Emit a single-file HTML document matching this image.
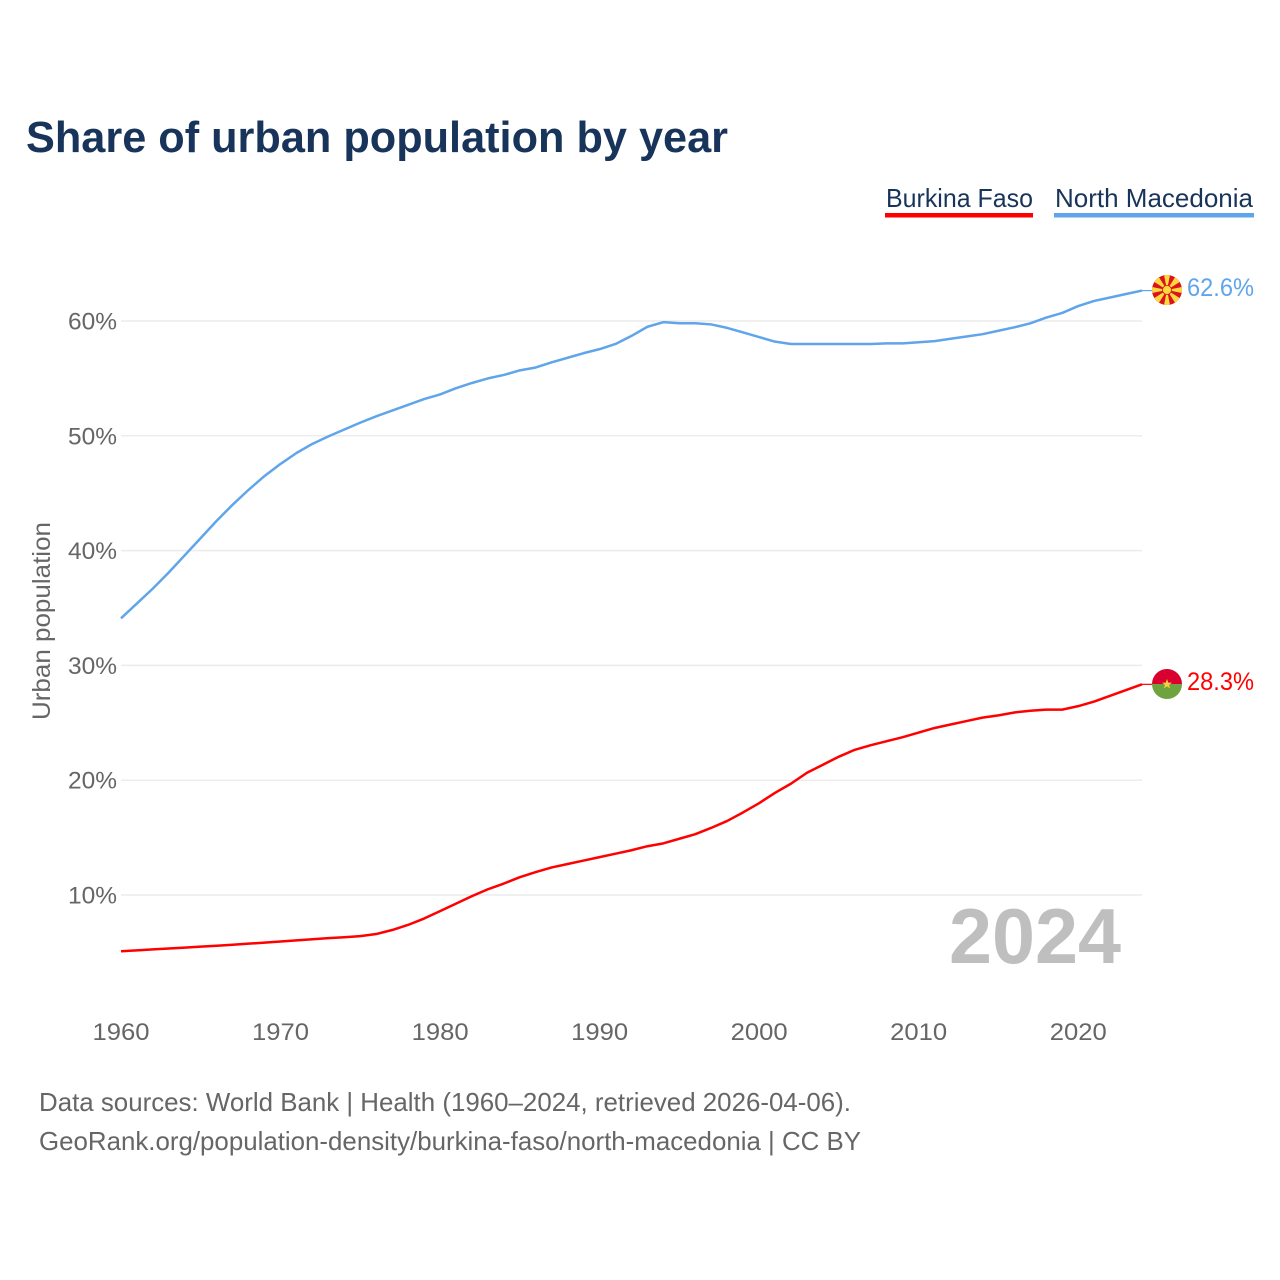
<!DOCTYPE html>
<html lang="en">
<head>
<meta charset="utf-8">
<title>Share of urban population by year</title>
<style>
html,body{margin:0;padding:0;background:#fff;width:1280px;height:1280px;overflow:hidden}
svg{display:block}
text{font-family:"Liberation Sans",sans-serif}
</style>
</head>
<body>
<svg id="chart" xmlns="http://www.w3.org/2000/svg" width="1280" height="1280" viewBox="0 0 1280 1280">
  <defs>
    <clipPath id="mk-clip"><circle cx="1167" cy="290" r="15"/></clipPath>
  </defs>
  <rect width="1280" height="1280" fill="#fff"/>
  <text x="26" y="152" font-size="44" font-weight="700" fill="#18345a" textLength="702" lengthAdjust="spacingAndGlyphs">Share of urban population by year</text>

  <g>
    <text x="886" y="207" font-size="26" fill="#18345a" textLength="147" lengthAdjust="spacingAndGlyphs">Burkina Faso</text>
    <rect x="885" y="213" width="148" height="4.5" fill="#ff0000"/>
  </g>
  <g>
    <text x="1055" y="207" font-size="26" fill="#18345a" textLength="198" lengthAdjust="spacingAndGlyphs">North Macedonia</text>
    <rect x="1054" y="213" width="200" height="4.5" fill="#60a5ea"/>
  </g>

  <g id="grid"></g>
  <g id="yticks"></g>
  <g id="xticks"></g>

  <text transform="translate(50,621) rotate(-90)" text-anchor="middle" font-size="25" fill="#666" textLength="198" lengthAdjust="spacingAndGlyphs">Urban population</text>

  <text x="949" y="963" font-size="78" font-weight="700" fill="#bfbfbf" textLength="172" lengthAdjust="spacingAndGlyphs">2024</text>

  <g id="series"></g>
  <g id="ends"></g>

  <g id="flag-mk">
    <circle cx="1167" cy="290" r="15" fill="#d8141e"/>
    <g fill="#ffd83d" clip-path="url(#mk-clip)">
      <polygon points="1167,290 1163.8,274 1170.2,274"/>
      <polygon points="1167,290 1163.8,306 1170.2,306"/>
      <polygon points="1167,290 1151,286.8 1151,293.2"/>
      <polygon points="1167,290 1183,286.8 1183,293.2"/>
      <polygon points="1167,290 1158.8,277 1154,281.8"/>
      <polygon points="1167,290 1175.2,277 1180,281.8"/>
      <polygon points="1167,290 1158.8,303 1154,298.2"/>
      <polygon points="1167,290 1175.2,303 1180,298.2"/>
      <circle cx="1167" cy="290" r="4.5" stroke="#d8141e" stroke-width="0.8"/>
    </g>
  </g>
  <g id="flag-bf">
    <path d="M1152 684a15 15 0 0 1 30 0z" fill="#d9002f"/>
    <path d="M1152 684a15 15 0 0 0 30 0z" fill="#6ea33f"/>
    <polygon points="1167,679 1168.3,682.6 1172,682.6 1169,684.9 1170.1,688.5 1167,686.3 1163.9,688.5 1165,684.9 1162,682.6 1165.7,682.6" fill="#f7d23c"/>
  </g>

  <text x="39" y="1111" font-size="26" fill="#666" textLength="812" lengthAdjust="spacingAndGlyphs">Data sources: World Bank | Health (1960–2024, retrieved 2026-04-06).</text>
  <text x="39" y="1150" font-size="26" fill="#666" textLength="822" lengthAdjust="spacingAndGlyphs">GeoRank.org/population-density/burkina-faso/north-macedonia | CC BY</text>
</svg>
<script>
const years = [1960,1961,1962,1963,1964,1965,1966,1967,1968,1969,1970,1971,1972,1973,1974,1975,1976,1977,1978,1979,1980,1981,1982,1983,1984,1985,1986,1987,1988,1989,1990,1991,1992,1993,1994,1995,1996,1997,1998,1999,2000,2001,2002,2003,2004,2005,2006,2007,2008,2009,2010,2011,2012,2013,2014,2015,2016,2017,2018,2019,2020,2021,2022,2023,2024];
const northMacedonia = [34.1,35.4,36.7,38.1,39.6,41.1,42.6,44.0,45.3,46.5,47.55,48.5,49.3,49.95,50.55,51.15,51.7,52.2,52.7,53.2,53.6,54.15,54.6,55.0,55.3,55.7,55.95,56.4,56.8,57.2,57.55,58.0,58.7,59.5,59.9,59.8,59.8,59.7,59.4,59.0,58.6,58.2,58.0,58.0,58.0,58.0,58.0,58.0,58.05,58.05,58.15,58.25,58.45,58.65,58.85,59.15,59.45,59.8,60.3,60.7,61.3,61.75,62.05,62.35,62.65];
const burkinaFaso = [5.1,5.18,5.26,5.34,5.42,5.5,5.58,5.67,5.76,5.85,5.95,6.05,6.15,6.24,6.32,6.42,6.6,6.95,7.4,7.95,8.6,9.25,9.9,10.5,11.0,11.55,12.0,12.4,12.7,13.0,13.3,13.6,13.9,14.25,14.5,14.9,15.3,15.85,16.45,17.2,18.0,18.9,19.7,20.65,21.35,22.05,22.65,23.05,23.4,23.75,24.15,24.55,24.85,25.15,25.45,25.65,25.9,26.05,26.15,26.15,26.45,26.85,27.35,27.85,28.35];
const yTickValues = [10,20,30,40,50,60];
const yTickLabels = ["10%","20%","30%","40%","50%","60%"];
const xTickValues = [1960,1970,1980,1990,2000,2010,2020];
const xTickLabels = ["1960","1970","1980","1990","2000","2010","2020"];
const endLabelBurkina = "28.3%";
const endLabelMacedonia = "62.6%";

const NS = 'http://www.w3.org/2000/svg';
function xScale(year){ return 121 + (year - 1960) * (1142 - 121) / 64; }
function yScale(v){ return 895 - (v - 10) * (895 - 321) / 50; }
function make(tag, attrs, parent, txt){
  const el = document.createElementNS(NS, tag);
  for (const k in attrs) el.setAttribute(k, attrs[k]);
  if (txt !== undefined) el.textContent = txt;
  parent.appendChild(el);
  return el;
}
const grid = document.getElementById('grid');
const yticks = document.getElementById('yticks');
const xticks = document.getElementById('xticks');
const seriesG = document.getElementById('series');
const ends = document.getElementById('ends');

yTickValues.forEach(function(v, i){
  const y = yScale(v);
  const line = make('line', {x1:121, x2:1142, y1:y, y2:y, stroke:'#ececec', 'stroke-width':1.5}, grid);
  
  
  const t = make('text', {x:117, y:y+8.5, 'text-anchor':'end', 'font-size':24, fill:'#666', textLength:49, lengthAdjust:'spacingAndGlyphs'}, yticks, yTickLabels[i]);
  
  
});
xTickValues.forEach(function(v, i){
  const t = make('text', {x:xScale(v), y:1040, 'text-anchor':'middle', 'font-size':24, fill:'#666', textLength:57, lengthAdjust:'spacingAndGlyphs'}, xticks, xTickLabels[i]);
  
  
});
function drawSeries(values, color, name, label){
  const d = values.map(function(v, i){ return (i ? 'L' : 'M') + xScale(years[i]).toFixed(2) + ' ' + yScale(v).toFixed(2); }).join('');
  const path = make('path', {d:d, fill:'none', stroke:color, 'stroke-width':2.5, 'stroke-linejoin':'round'}, seriesG);
  
  
  const last = values[values.length - 1];
  const ly = yScale(last);
  const conn = make('line', {x1:1142, x2:1152, y1:ly, y2:ly, stroke:color, 'stroke-width':1.2}, seriesG);
  
  
  const t = make('text', {x:1187, y:ly+5.5, 'font-size':25, fill:color, textLength:67, lengthAdjust:'spacingAndGlyphs'}, ends, label);
  
  
}
drawSeries(northMacedonia, '#60a5ea', 'north-macedonia', endLabelMacedonia);
drawSeries(burkinaFaso, '#ff0000', 'burkina-faso', endLabelBurkina);
</script>
</body>
</html>
